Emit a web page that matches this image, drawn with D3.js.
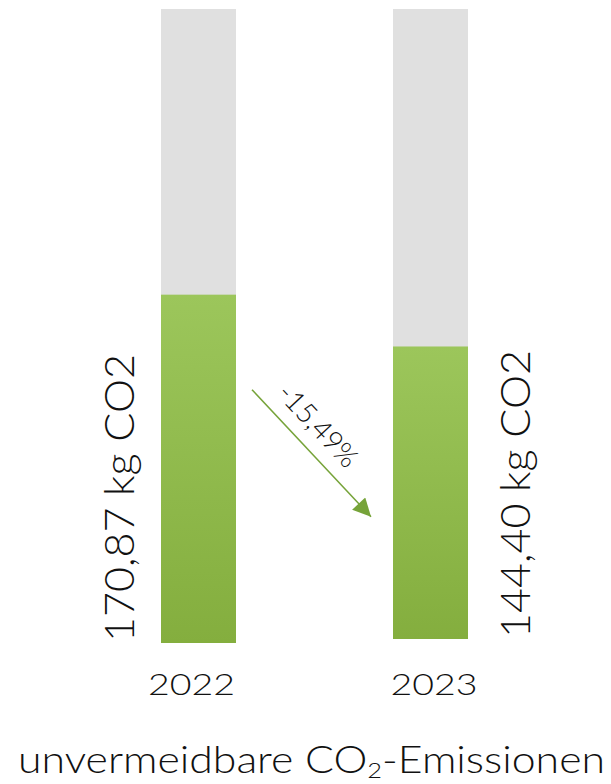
<!DOCTYPE html>
<html>
<head>
<meta charset="utf-8">
<script src="https://cdn.jsdelivr.net/npm/d3@7"></script>
<style>
  body { margin: 0; background: #fff; }
  text { font-family: "Lato", "Open Sans", sans-serif; fill: #111; }
</style>
</head>
<body>
<div id="chart"></div>
<script>
// data
const years = ["2022", "2023"];
const emissions = [170.87, 144.40];
const valueLabels = ["170,87 kg CO2", "144,40 kg CO2"];
const changeLabel = "-15,49%";
const titleParts = ["unvermeidbare CO", "2", "-Emissionen"];

const W = 611, H = 784;
const yMax = 311;          // grey background = full scale
const barWidth = 75;
const barTop = 9;
const barBottom = [643, 639];

const svg = d3.select("#chart").append("svg")
  .attr("width", W)
  .attr("height", H);

const defs = svg.append("defs");
const grad = defs.append("linearGradient")
  .attr("id", "greenGrad")
  .attr("x1", 0).attr("y1", 0).attr("x2", 0).attr("y2", 1);
grad.append("stop").attr("offset", "0%").attr("stop-color", "#9cc65b");
grad.append("stop").attr("offset", "100%").attr("stop-color", "#84ae3e");

const marker = defs.append("marker")
  .attr("id", "arrowHead")
  .attr("viewBox", "0 0 10 10")
  .attr("refX", 10).attr("refY", 5)
  .attr("markerWidth", 20).attr("markerHeight", 18)
  .attr("markerUnits", "userSpaceOnUse")
  .attr("orient", "auto");
marker.append("path")
  .attr("d", "M0,0 L10,5 L0,10 Z")
  .attr("fill", "#76a339");

const x = d3.scalePoint().domain(years).range([198.5, 430.5]);
const yScales = years.map((d, i) =>
  d3.scaleLinear().domain([0, yMax]).range([barBottom[i], barTop]));

const bars = svg.append("g");

years.forEach((yr, i) => {
  const y = yScales[i];
  const left = x(yr) - barWidth / 2;

  // grey background
  bars.append("rect")
    .attr("x", left)
    .attr("y", y(yMax))
    .attr("width", barWidth)
    .attr("height", y(0) - y(yMax))
    .attr("fill", "#e0e0e0");

  // green value
  bars.append("rect")
    .attr("x", left)
    .attr("y", y(emissions[i]))
    .attr("width", barWidth)
    .attr("height", y(0) - y(emissions[i]))
    .attr("fill", "url(#greenGrad)");

  // rotated value label
  const lx = i === 0 ? left - 27 : left + barWidth + 62;
  svg.append("text")
    .attr("transform", `translate(${lx},${y(0) - 1}) rotate(-90)`)
    .attr("text-anchor", "start")
    .attr("textLength", 288)
    .attr("lengthAdjust", "spacingAndGlyphs")
    .style("font-size", "42px")
    .style("font-weight", 300)
    .text(valueLabels[i]);

  // year label
  const yOff = i === 0 ? -7 : 3.5;
  svg.append("text")
    .attr("x", x(yr) + yOff)
    .attr("y", 695)
    .attr("text-anchor", "middle")
    .attr("textLength", 87)
    .attr("lengthAdjust", "spacingAndGlyphs")
    .style("font-size", "29px")
    .style("font-weight", 300)
    .text(yr);
});

// change arrow between the bars
const x0 = x(years[0]) + barWidth / 2 + 16;
const y0 = yScales[0](emissions[0]) + 95;
const x1 = x(years[1]) - barWidth / 2 - 22;
const y1 = y0 + 127;

svg.append("line")
  .attr("x1", x0).attr("y1", y0)
  .attr("x2", x1).attr("y2", y1)
  .attr("stroke", "#76a339")
  .attr("stroke-width", 1.5)
  .attr("marker-end", "url(#arrowHead)");

const ang = Math.atan2(y1 - y0, x1 - x0) * 180 / Math.PI;
const mx = x0 + (x1 - x0) * 0.41, my = y0 + (y1 - y0) * 0.41;
const rad = ang * Math.PI / 180;
const off = 14;
svg.append("text")
  .attr("transform", `translate(${mx + Math.sin(rad) * off},${my - Math.cos(rad) * off}) rotate(${ang})`)
  .attr("text-anchor", "middle")
  .attr("textLength", 103)
  .attr("lengthAdjust", "spacingAndGlyphs")
  .style("font-size", "28px")
  .style("font-weight", 300)
  .text(changeLabel);

// title
const title = svg.append("text")
  .attr("x", 311.5)
  .attr("y", 773)
  .attr("text-anchor", "middle")
  .attr("textLength", 587)
  .attr("lengthAdjust", "spacingAndGlyphs")
  .style("font-size", "37px")
  .style("font-weight", 300);
title.append("tspan").text(titleParts[0]);
title.append("tspan")
  .attr("dy", 5)
  .style("font-size", "22px")
  .text(titleParts[1]);
title.append("tspan")
  .attr("dy", -5)
  .text(titleParts[2]);
</script>
</body>
</html>
